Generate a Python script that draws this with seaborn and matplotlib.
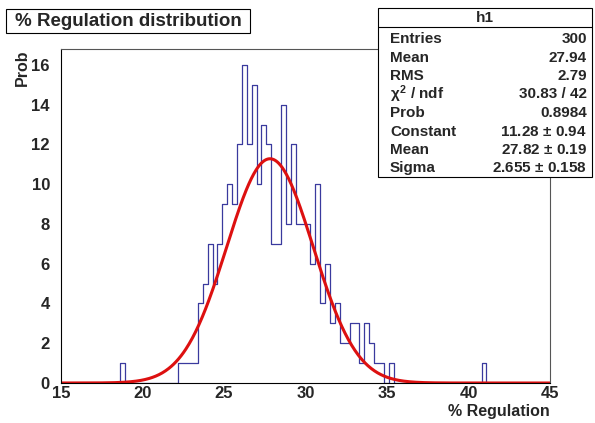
import numpy as np
import pandas as pd
import seaborn as sns
import matplotlib.pyplot as plt
from matplotlib.patches import Rectangle

# bin centres (0.3 wide bins from 15 to 45) and their contents
regulation = [18.75,
              22.35, 22.65, 22.95, 23.25, 23.55, 23.85, 24.15, 24.45, 24.75, 25.05,
              25.35, 25.65, 25.95, 26.25, 26.55, 26.85, 27.15, 27.45, 27.75, 28.05,
              28.35, 28.65, 28.95, 29.25, 29.55, 29.85, 30.15, 30.45, 30.75, 31.05,
              31.35, 31.65, 31.95, 32.25, 32.55, 32.85, 33.15, 33.45, 33.75, 34.05,
              34.35, 34.65,
              35.25, 40.95]
prob = [1,
        1, 1, 1, 1, 4, 5, 7, 5, 7, 9,
        10, 9, 12, 16, 12, 15, 10, 13, 12, 7,
        7, 14, 8, 12, 8, 8, 8, 6, 10, 4,
        6, 3, 4, 2, 2, 3, 3, 1, 3, 2,
        1, 1,
        1, 1]

# gaussian fit result (from the stats box)
fit_constant = 11.28
fit_mean = 27.82
fit_sigma = 2.655

stat_labels = ["Entries", "Mean", "RMS", r"$\chi^2$ / ndf", "Prob", "Constant", "Mean", "Sigma"]
stat_values = ["300", "27.94", "2.79", "30.83 / 42", "0.8984",
               "11.28 $\\pm$ 0.94", "27.82 $\\pm$ 0.19", "2.655 $\\pm$ 0.158"]

df = pd.DataFrame({"regulation": regulation, "prob": prob})

sns.set_style("white")
plt.rcParams["font.family"] = ["Liberation Sans", "DejaVu Sans"]
plt.rcParams["font.weight"] = "bold"
plt.rcParams["mathtext.fontset"] = "custom"
plt.rcParams["mathtext.rm"] = "Liberation Sans:bold"
plt.rcParams["mathtext.it"] = "Liberation Sans:bold"
plt.rcParams["mathtext.bf"] = "Liberation Sans:bold"

W, H = 595, 423
fig = plt.figure(figsize=(W / 100, H / 100), dpi=100)
fig.patch.set_facecolor("white")
ax = fig.add_axes([61 / W, 1 - 383 / H, (550 - 61) / W, (383 - 49) / H])

sns.histplot(data=df, x="regulation", weights="prob", binwidth=0.3, binrange=(15, 45),
             element="step", fill=False, color="#3a3a9e", linewidth=0.9, ax=ax)

xs = np.linspace(15, 45, 600)
fit_y = fit_constant * np.exp(-0.5 * ((xs - fit_mean) / fit_sigma) ** 2)
sns.lineplot(x=xs, y=fit_y, color="#dd1010", linewidth=2.2, ax=ax)

ax.set_xlim(15, 45)
ax.set_ylim(0, 16.8)
ax.set_xticks(range(15, 46, 5))
ax.set_xticks(range(15, 46, 1), minor=True)
ax.set_yticks(range(0, 17, 2))
ax.set_yticks(np.arange(0, 16.8, 0.5), minor=True)
ax.tick_params(axis="x", which="major", direction="in", length=7.2, width=0.7, pad=2, labelsize=12)
ax.tick_params(axis="x", which="minor", direction="in", length=3.6, width=0.7)
ax.tick_params(axis="y", which="major", direction="in", length=10.8, width=0.7, pad=8, labelsize=12)
ax.tick_params(axis="y", which="minor", direction="in", length=5.4, width=0.7)
for lab in ax.get_xticklabels() + ax.get_yticklabels():
    lab.set_fontweight("bold")

for side in ["left", "bottom"]:
    ax.spines[side].set_color("black")
    ax.spines[side].set_linewidth(0.8)
for side in ["top", "right"]:
    ax.spines[side].set_color("#555555")
    ax.spines[side].set_linewidth(0.8)

ax.set_xlabel("% Regulation", loc="right", fontsize=11.5, fontweight="bold", labelpad=2)
ax.set_ylabel("Prob", loc="top", fontsize=11.5, fontweight="bold")
ax.yaxis.set_label_coords(-0.063, 1.0)


def fx(px):
    return px / W


def fy(py):
    return 1 - py / H


# title box
fig.patches.append(Rectangle((fx(6), fy(33)), fx(250) - fx(6), fy(9) - fy(33),
                             transform=fig.transFigure, facecolor="white",
                             edgecolor="black", linewidth=0.8))
fig.text(fx(128), fy(21), "% Regulation distribution", ha="center", va="center",
         fontsize=13.5, fontweight="bold")

# stats box
fig.patches.append(Rectangle((fx(378), fy(177)), fx(592) - fx(378), fy(8) - fy(177),
                             transform=fig.transFigure, facecolor="white",
                             edgecolor="black", linewidth=0.8, zorder=5))
fig.lines.append(plt.Line2D([fx(378), fx(592)], [fy(27), fy(27)],
                            transform=fig.transFigure, color="black", linewidth=0.8, zorder=6))
fig.text(fx(485), fy(18), "h1", ha="center", va="center", fontsize=11,
         fontweight="bold", zorder=7)
row_y = [39, 57.5, 76, 94.5, 113, 131.5, 150, 168]
for name, val, yy in zip(stat_labels, stat_values, row_y):
    fig.text(fx(390), fy(yy), name, ha="left", va="center", fontsize=11,
             fontweight="bold", zorder=7)
    fig.text(fx(587), fy(yy), val, ha="right", va="center", fontsize=11,
             fontweight="bold", zorder=7)

fig.savefig("out.png", dpi=100, facecolor="white")
